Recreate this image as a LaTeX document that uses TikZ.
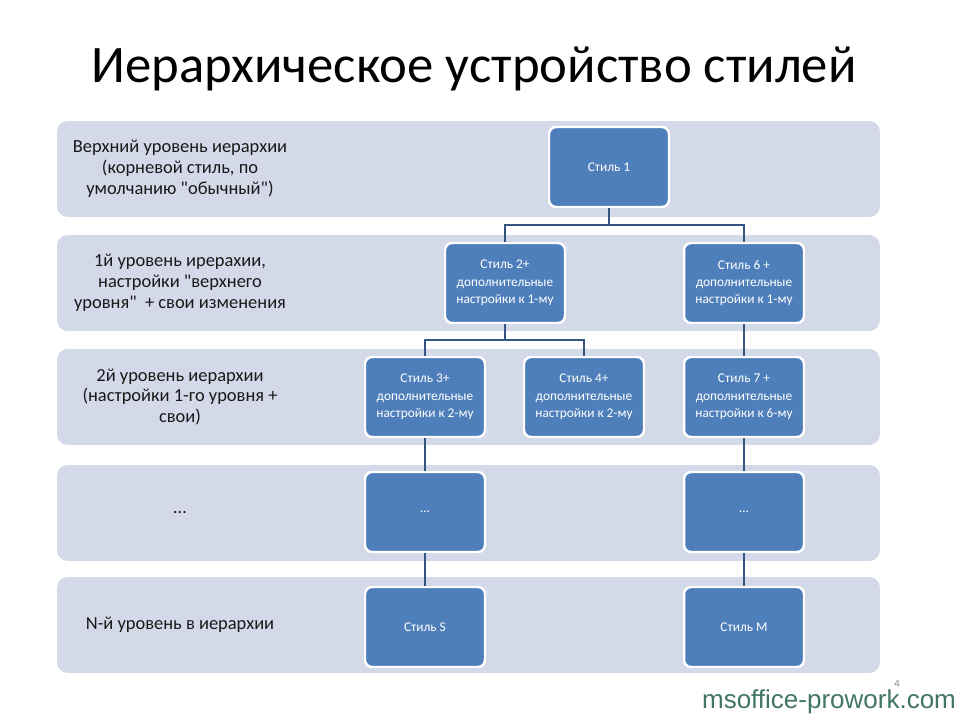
\documentclass[tikz,border=0pt]{standalone}
\usepackage{fontspec}
\setmainfont{Carlito}[Ligatures=TeXOff]
\newfontfamily\wmfont{Liberation Sans}
\usepackage{tikz}
\usetikzlibrary{positioning}
\definecolor{bandc}{RGB}{211,217,232}
\definecolor{boxc}{RGB}{79,127,187}
\definecolor{linkc}{RGB}{52,84,130}
\definecolor{wmc}{RGB}{66,118,98}

\begin{document}
\begin{tikzpicture}[
  x=0.02cm,y=-0.02cm,
  band/.style={fill=bandc,rounded corners=6pt,minimum width=16.46cm,
               minimum height=1.92cm,inner sep=0pt},
  lvl/.style={font=\fontsize{10.5}{11.9}\selectfont,align=center,text=black!90},
  stylebox/.style={fill=boxc,draw=white,line width=1.4pt,rounded corners=4pt,
               minimum width=2.4cm,minimum height=1.6cm,inner sep=1pt,
               text=white,align=center,font=\fontsize{7.6}{9.9}\selectfont},
  link/.style={draw=linkc,line width=1.1pt}
]
\useasboundingbox (0,0) rectangle (960,720);
% title
\node (title) at (474,69) {\fontsize{30}{36}\selectfont Иерархическое устройство стилей};
% level bands
\foreach \i/\y/\txt in {1/169/{Верхний уровень иерархии\\(корневой стиль, по\\умолчанию "обычный")},
                        2/283/{1й уровень ирерахии,\\настройки "верхнего\\уровня"\ \ + свои изменения},
                        3/397/{2й уровень иерархии\\(настройки 1-го уровня +\\свои)},
                        4/513/{\dots},
                        5/625/{N-й уровень в иерархии}} {
  \node[band] (band\i) at (468.5,\y) {};
  \node[lvl] (lab\i) at (180,\y) {\txt};
}
% style boxes
\node[stylebox] (s1) at (609,167) {Стиль 1};
\node[stylebox] (s2) at (505,283) {Стиль 2+\\дополнительные\\настройки к 1-му};
\node[stylebox] (s6) at (744,283) {Стиль 6 +\\дополнительные\\настройки к 1-му};
\node[stylebox] (s3) at (425,397) {Стиль 3+\\дополнительные\\настройки к 2-му};
\node[stylebox] (s4) at (584,397) {Стиль 4+\\дополнительные\\настройки к 2-му};
\node[stylebox] (s7) at (744,397) {Стиль 7 +\\дополнительные\\настройки к 6-му};
\node[stylebox] (d1) at (425,512) {\dots};
\node[stylebox] (d2) at (744,512) {\dots};
\node[stylebox] (sS) at (425,627) {Стиль S};
\node[stylebox] (sM) at (744,627) {Стиль M};
% tree links
\coordinate (j1) at (609,225);
\coordinate (j2) at (505,340);
\draw[link] (s1.south) -- (j1) -| (s2.north);
\draw[link] (j1) -| (s6.north);
\draw[link] (s2.south) -- (j2) -| (s3.north);
\draw[link] (j2) -| (s4.north);
\draw[link] (s6) -- (s7);
\draw[link] (s3) -- (d1);
\draw[link] (d1) -- (sS);
\draw[link] (s7) -- (d2);
\draw[link] (d2) -- (sM);
% page number and site mark
\node[text=black!45,font=\fontsize{6.5}{7}\selectfont,inner sep=0pt] (pg) at (897,684) {4};
\node[text=wmc,font=\wmfont\fontsize{14.8}{16}\selectfont] (wm) at (829,702) {msoffice-prowork.com};
\end{tikzpicture}
\end{document}
